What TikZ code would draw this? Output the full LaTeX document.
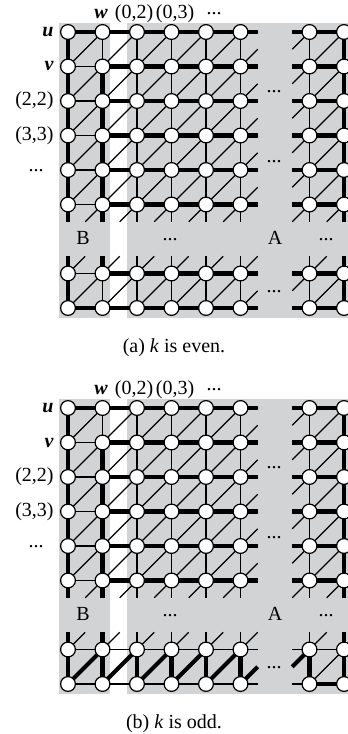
\documentclass[tikz,border=0pt]{standalone}
\usepackage{fontspec}
\setmainfont{Liberation Serif}
\usetikzlibrary{calc}
\pgfdeclarelayer{panel}
\pgfdeclarelayer{edges}
\pgfsetlayers{panel,edges,main}
\definecolor{panelgray}{RGB}{210,211,213}
\tikzset{
  vtx/.style={circle,draw=black,fill=white,line width=0.6pt,minimum size=7.4pt,inner sep=0pt},
  thn/.style={line width=0.6pt},
  thk/.style={line width=2.1pt},
  lbl/.style={inner sep=0pt,font=\fontsize{10}{12}\selectfont},
  vlab/.style={inner sep=3pt,anchor=east,font=\fontsize{10}{12}\selectfont},
  hlab/.style={lbl,anchor=base},
}
% #1 prefix, #2 y shift, #3 row7 style, #4 row8 style, #5 lower vertical style, #6 lower diagonal style, #7 caption
\newcommand\figgrid[7]{%
\begin{scope}[shift={(0,#2)}]
\begin{pgfonlayer}{panel}
\fill[panelgray] (58.5,22.5) rectangle (110,317.5);
\fill[panelgray] (127,22.5) rectangle (360,317.5);
\end{pgfonlayer}
\foreach \r in {0,1,2,3,4,5,7,8}{\foreach \c in {0,1,2,3,4,5,7,8}{\node[vtx] (#1-\r-\c) at ({68+34.5*\c},{32+34.5*\r}) {};}}
\foreach \r in {0,...,8}{\coordinate (#1-\r-6) at (275,{32+34.5*\r});}
\foreach \c in {-1,0,1,2,3,4,5,7,8,9}{\coordinate (#1-6-\c) at ({68+34.5*\c},239);}
\begin{pgfonlayer}{edges}
% horizontal edges, rows 0-5
\foreach \c/\d in {0/1,1/2,2/3,3/4,4/5,7/8}{\draw[thk] (#1-0-\c.center) -- (#1-0-\d.center);}
\foreach \r in {1,...,5}{
  \draw[thn] (#1-\r-0.center) -- (#1-\r-1.center);
  \foreach \c/\d in {1/2,2/3,3/4,4/5,7/8}{\draw[thk] (#1-\r-\c.center) -- (#1-\r-\d.center);}
}
\foreach \r in {0,...,5}{
  \draw[thk] (#1-\r-5.center) -- ($(#1-\r-5.center)!0.5!(#1-\r-6)$);
  \draw[thk] (#1-\r-7.center) -- ($(#1-\r-7.center)!0.5!(#1-\r-6)$);
}
% row 7
\draw[thn] (#1-7-0.center) -- (#1-7-1.center);
\foreach \c/\d in {1/2,2/3,3/4,4/5,7/8}{\draw[#3] (#1-7-\c.center) -- (#1-7-\d.center);}
\draw[#3] (#1-7-5.center) -- ($(#1-7-5.center)!0.5!(#1-7-6)$);
\draw[#3] (#1-7-7.center) -- ($(#1-7-7.center)!0.5!(#1-7-6)$);
% row 8
\foreach \c/\d in {0/1,1/2,2/3,3/4,4/5}{\draw[#4] (#1-8-\c.center) -- (#1-8-\d.center);}
\draw[#4] (#1-8-5.center) -- ($(#1-8-5.center)!0.5!(#1-8-6)$);
\draw[#4] (#1-8-7.center) -- ($(#1-8-7.center)!0.5!(#1-8-6)$);
\draw[thk] (#1-8-7.center) -- (#1-8-8.center);
% vertical edges, upper block
\foreach \r/\s in {0/1,1/2,2/3,3/4,4/5}{
  \draw[thk] (#1-\r-0.center) -- (#1-\s-0.center);
  \draw[thk] (#1-\r-8.center) -- (#1-\s-8.center);
  \foreach \c in {2,3,4,5,7}{\draw[thn] (#1-\r-\c.center) -- (#1-\s-\c.center);}
}
\draw[thn] (#1-0-1.center) -- (#1-1-1.center);
\foreach \r/\s in {1/2,2/3,3/4,4/5}{\draw[thk] (#1-\r-1.center) -- (#1-\s-1.center);}
% vertical stubs
\foreach \c in {0,1,8}{
  \draw[thk] (#1-5-\c.center) -- ($(#1-5-\c.center)!0.5!(#1-6-\c)$);
  \draw[thk] (#1-7-\c.center) -- ($(#1-7-\c.center)!0.5!(#1-6-\c)$);
}
\foreach \c in {2,3,4,5,7}{
  \draw[thn] (#1-5-\c.center) -- ($(#1-5-\c.center)!0.5!(#1-6-\c)$);
  \draw[thn] (#1-7-\c.center) -- ($(#1-7-\c.center)!0.5!(#1-6-\c)$);
}
% lower verticals
\draw[thk] (#1-7-0.center) -- (#1-8-0.center);
\draw[thk] (#1-7-8.center) -- (#1-8-8.center);
\foreach \c in {1,2,3,4,5,7}{\draw[#5] (#1-7-\c.center) -- (#1-8-\c.center);}
% diagonals, upper block
\foreach \r/\s in {0/1,1/2,2/3,3/4,4/5}{
  \foreach \c/\d in {0/1,1/2,2/3,3/4,4/5,7/8}{\draw[thn] (#1-\s-\c.center) -- (#1-\r-\d.center);}
}
\foreach \r/\s in {1/0,2/1,3/2,4/3,5/4}{\draw[thn] (#1-\r-5.center) -- ($(#1-\r-5.center)!0.5!(#1-\s-6)$);}
\foreach \r/\s in {0/1,1/2,2/3,3/4,4/5}{\draw[thn] (#1-\r-7.center) -- ($(#1-\r-7.center)!0.5!(#1-\s-6)$);}
\foreach \c/\d in {1/0,2/1,3/2,4/3,5/4,7/6,8/7}{\draw[thn] (#1-5-\c.center) -- ($(#1-5-\c.center)!0.5!(#1-6-\d)$);}
\foreach \c/\d in {0/1,1/2,2/3,3/4,4/5,5/6,7/8}{\draw[thn] (#1-7-\c.center) -- ($(#1-7-\c.center)!0.5!(#1-6-\d)$);}
% lower diagonals
\foreach \c/\d in {0/1,1/2,2/3,3/4,4/5}{\draw[#6] (#1-8-\c.center) -- (#1-7-\d.center);}
\draw[thn] (#1-8-7.center) -- (#1-7-8.center);
\draw[#6] (#1-8-5.center) -- ($(#1-8-5.center)!0.5!(#1-7-6)$);
\draw[#6] (#1-7-7.center) -- ($(#1-7-7.center)!0.5!(#1-8-6)$);
\end{pgfonlayer}
% labels
\node[hlab] (#1-hw) at (101,18) {\textbf{\textit{w}}};
\node[hlab] (#1-h2) at (134,18) {(0,2)};
\node[hlab] (#1-h3) at (175,18) {(0,3)};
\node[lbl] (#1-hd) at (214,14) {...};
\node[vlab] (#1-lu) at (#1-0-0.west) {\textbf{\textit{u}}};
\node[vlab] (#1-lv) at (#1-1-0.west) {\textbf{\textit{v}}};
\node[vlab] (#1-l2) at (#1-2-0.west) {(2,2)};
\node[vlab] (#1-l3) at (#1-3-0.west) {(3,3)};
\node[lbl] (#1-ld) at (36,171) {...};
\node[lbl] (#1-d1) at (274,92) {...};
\node[lbl] (#1-d2) at (274,162) {...};
\node[lbl] (#1-d3) at (274,292) {...};
\node[lbl] (#1-B) at (83,238) {B};
\node[lbl] (#1-d4) at (170,240) {...};
\node[lbl] (#1-A) at (275,238) {A};
\node[lbl] (#1-d5) at (326,240) {...};
\node[hlab] (#1-cap) at (174,352) {#7};
\end{scope}}

\begin{document}
\begin{tikzpicture}[x=0.5pt,y=-0.5pt]
\useasboundingbox (0,0) rectangle (348,734);
\figgrid{a}{0}{thk}{thk}{thn}{thn}{(a) \textit{k} is even.}
\figgrid{b}{376}{thn}{thn}{thk}{thk}{(b) \textit{k} is odd.}
\end{tikzpicture}
\end{document}
